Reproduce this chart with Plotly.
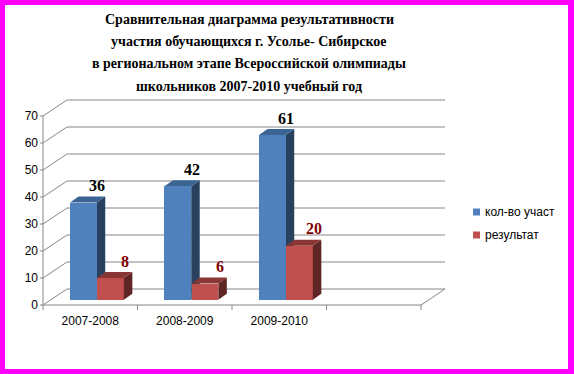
import plotly.graph_objects as go

# ---------------- data ----------------
categories = ["2007-2008", "2008-2009", "2009-2010"]
participants = [36, 42, 61]          # кол-во участ
results = [8, 6, 20]                 # результат
series_names = ["кол-во участ", "результат"]
y_ticks = [0, 10, 20, 30, 40, 50, 60, 70]
title_lines = [
    "Сравнительная диаграмма результативности",
    "участия обучающихся г. Усолье- Сибирское",
    "в региональном этапе Всероссийской олимпиады",
    "школьников 2007-2010 учебный год",
]

# ---------------- geometry (pixels) ----------------
W, H = 574, 374
X0PX, XS = 43, 94.5      # pixel of x=0, pixels per category
Y0PX, YS = 305, 2.7      # pixel of y=0, pixels per unit
PL, PR, PT, PB = 39, 449, 98, 312
N_SLOTS = 4

DEPTH_DX = 24 / XS       # wall depth in data units
DEPTH_DY = 16 / YS
BAR_DX = 8.5 / XS        # bar depth
BAR_DY = 6.0 / YS
BAR_BASE = 5.3 / YS      # bars stand mid-depth
BAR_W = 0.283
BLUE_OFF, RED_OFF = 0.427, 0.714

GRID = "#868686"
BLUE, BLUE_SIDE, BLUE_TOP = "#4F81BD", "#27415F", "#3A6494"
RED, RED_SIDE, RED_TOP = "#C0504D", "#5E2524", "#8A3634"


def px_x(p):
    return (p - PL) / (PR - PL)


def px_y(p):
    return (PB - p) / (PB - PT)


fig = go.Figure()
shapes = []
annotations = []

# white card inside magenta border
shapes.append(dict(type="rect", xref="paper", yref="paper",
                   x0=px_x(5), x1=px_x(W - 6), y0=px_y(H - 5), y1=px_y(5),
                   fillcolor="white", line=dict(width=0), layer="below"))

# walls / gridlines
for v in y_ticks:
    shapes.append(dict(type="line", xref="x", yref="y", x0=0, y0=v,
                       x1=DEPTH_DX, y1=v + DEPTH_DY,
                       line=dict(color=GRID, width=1), layer="below"))
    shapes.append(dict(type="line", xref="x", yref="y", x0=DEPTH_DX, y0=v + DEPTH_DY,
                       x1=N_SLOTS + DEPTH_DX, y1=v + DEPTH_DY,
                       line=dict(color=GRID, width=1), layer="below"))
    shapes.append(dict(type="line", xref="x", yref="y", x0=-3 / XS, y0=v, x1=0, y1=v,
                       line=dict(color=GRID, width=1), layer="below"))
# y axis line, floor front edge, floor right edge
shapes.append(dict(type="line", xref="x", yref="y", x0=0, y0=0, x1=0, y1=max(y_ticks),
                   line=dict(color=GRID, width=1), layer="below"))
shapes.append(dict(type="line", xref="x", yref="y", x0=0, y0=0, x1=N_SLOTS, y1=0,
                   line=dict(color=GRID, width=1), layer="below"))
shapes.append(dict(type="line", xref="x", yref="y", x0=N_SLOTS, y0=0,
                   x1=N_SLOTS + DEPTH_DX, y1=DEPTH_DY,
                   line=dict(color=GRID, width=1), layer="below"))
for i in range(N_SLOTS + 1):
    shapes.append(dict(type="line", xref="x", yref="y", x0=i, y0=0, x1=i, y1=-5 / YS,
                       line=dict(color=GRID, width=1), layer="below"))


def box_faces(xc, val, side_col, top_col, layer):
    xl, xr = xc - BAR_W / 2, xc + BAR_W / 2
    yb, yt = BAR_BASE, BAR_BASE + val
    side = (f"M{xr},{yb} L{xr + BAR_DX},{yb + BAR_DY} L{xr + BAR_DX},{yt + BAR_DY} "
            f"L{xr},{yt} Z")
    top = (f"M{xl},{yt} L{xr},{yt} L{xr + BAR_DX},{yt + BAR_DY} "
           f"L{xl + BAR_DX},{yt + BAR_DY} Z")
    return [dict(type="path", xref="x", yref="y", path=side, fillcolor=side_col,
                 line=dict(width=0), layer=layer),
            dict(type="path", xref="x", yref="y", path=top, fillcolor=top_col,
                 line=dict(width=0), layer=layer)]


blue_x = [i + BLUE_OFF for i in range(len(categories))]
red_x = [i + RED_OFF for i in range(len(categories))]

for xc, v in zip(blue_x, participants):
    shapes += box_faces(xc, v, BLUE_SIDE, BLUE_TOP, "below")
for xc, v in zip(red_x, results):
    shapes += box_faces(xc, v, RED_SIDE, RED_TOP, "above")

fig.add_trace(go.Bar(x=blue_x, y=participants, base=BAR_BASE, width=BAR_W,
                     marker=dict(color=BLUE, line=dict(width=0)),
                     name=series_names[0], showlegend=False,
                     hovertext=categories, hoverinfo="text+y"))
fig.add_trace(go.Bar(x=red_x, y=results, base=BAR_BASE, width=BAR_W,
                     marker=dict(color=RED, line=dict(width=0)),
                     name=series_names[1], showlegend=False,
                     hovertext=categories, hoverinfo="text+y"))

# data labels
for xc, v in zip(blue_x, participants):
    annotations.append(dict(x=xc, y=BAR_BASE + v, xref="x", yref="y", text=str(v),
                            showarrow=False, xshift=14, yshift=17, yanchor="middle",
                            font=dict(family="Liberation Serif", size=16, color="#000000",
                                      weight="bold")))
for xc, v in zip(red_x, results):
    annotations.append(dict(x=xc, y=BAR_BASE + v, xref="x", yref="y", text=str(v),
                            showarrow=False, xshift=15, yshift=17, yanchor="middle",
                            font=dict(family="Liberation Serif", size=16, color="#800000",
                                      weight="bold")))

# title
for k, line in enumerate(title_lines):
    annotations.append(dict(x=px_x(249), y=px_y([19.5, 41.5, 63.5, 86.5][k]),
                            xref="paper", yref="paper", text=line, showarrow=False,
                            xanchor="center", yanchor="middle",
                            font=dict(family="Liberation Serif", size=14, color="#000000",
                                      weight="bold")))

# legend
for k, (name, col) in enumerate(zip(series_names, [BLUE, RED])):
    cy = [212, 235][k]
    shapes.append(dict(type="rect", xref="paper", yref="paper",
                       x0=px_x(473), x1=px_x(480), y0=px_y(cy + 3.5), y1=px_y(cy - 3.5),
                       fillcolor=col, line=dict(width=0), layer="above"))
    annotations.append(dict(x=px_x(483), y=px_y(cy), xref="paper", yref="paper",
                            text=name, showarrow=False, xanchor="left", yanchor="middle",
                            font=dict(family="Liberation Sans", size=12, color="#000000")))

fig.update_layout(
    width=W, height=H,
    margin=dict(l=PL, r=W - PR, t=PT, b=H - PB, pad=0),
    paper_bgcolor="#FF00FF", plot_bgcolor="rgba(0,0,0,0)",
    barmode="overlay", bargap=0,
    shapes=shapes, annotations=annotations,
    showlegend=False,
    xaxis=dict(range=[(PL - X0PX) / XS, (PR - X0PX) / XS],
               tickvals=[i + 0.5 for i in range(len(categories))], ticktext=categories,
               ticks="", showgrid=False, zeroline=False, showline=False,
               tickfont=dict(family="Liberation Sans", size=12, color="#000000"),
               fixedrange=True),
    yaxis=dict(range=[(Y0PX - PB) / YS, (Y0PX - PT) / YS],
               tickvals=y_ticks, ticks="", showgrid=False, zeroline=False, showline=False,
               tickfont=dict(family="Liberation Sans", size=12, color="#000000"),
               fixedrange=True),
)

fig.write_html("out.html", config={"displayModeBar": False},
               post_script="document.body.style.margin='0';document.body.style.overflow='hidden';")
